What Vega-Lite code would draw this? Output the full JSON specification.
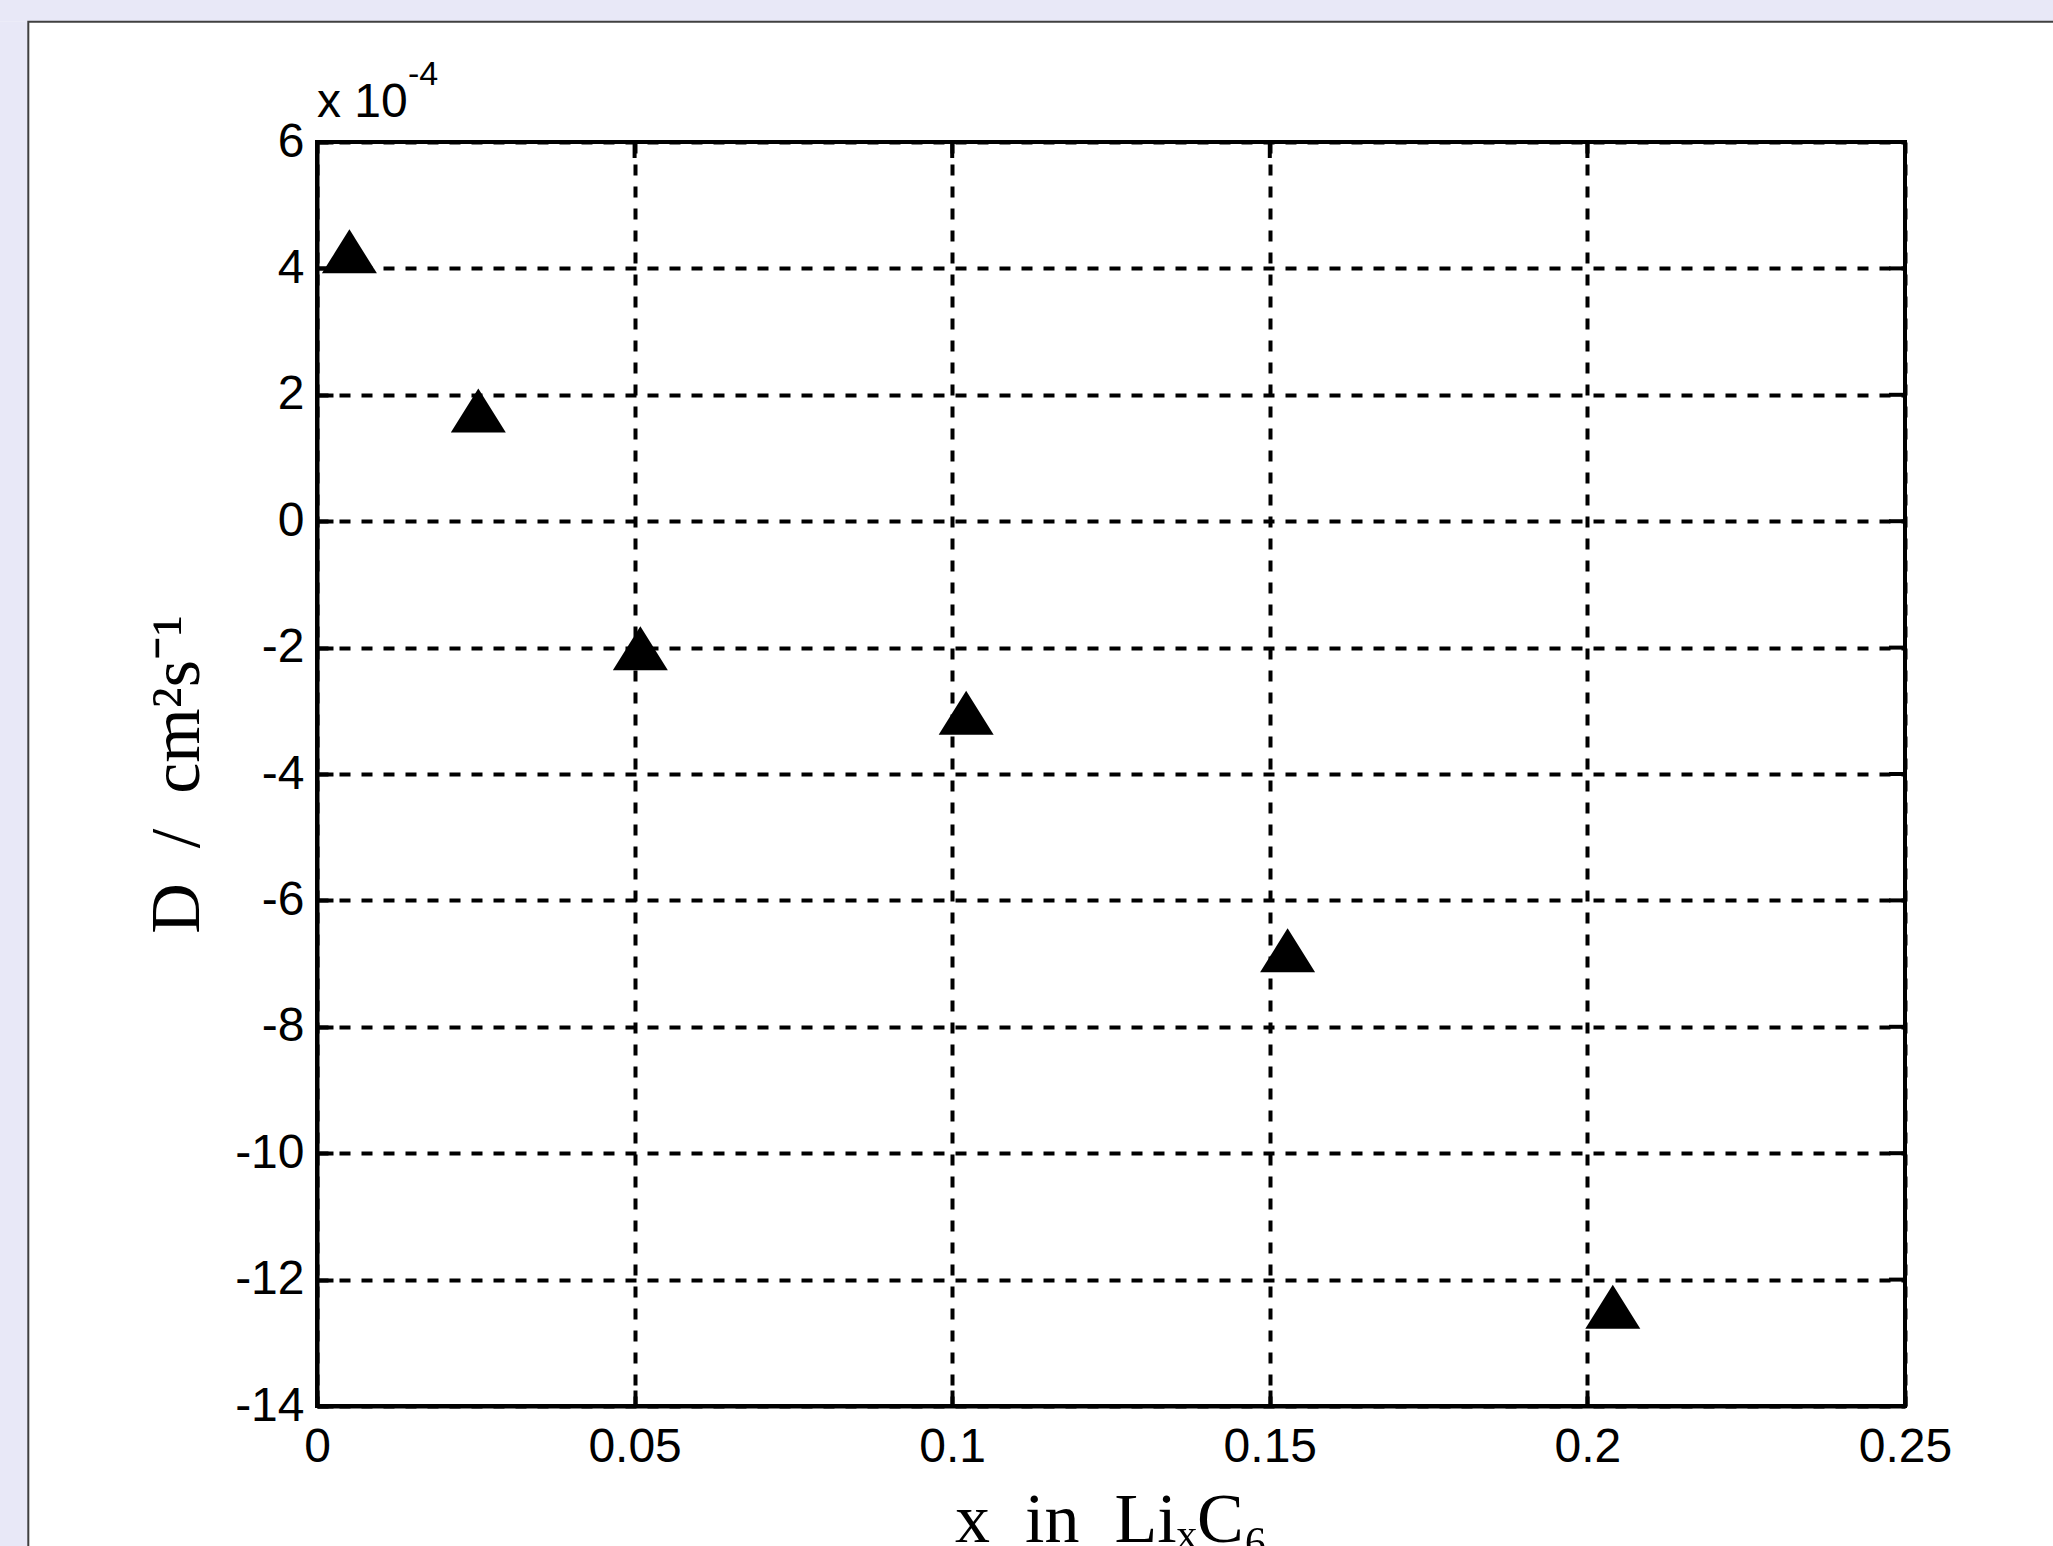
{
  "$schema": "https://vega.github.io/schema/vega-lite/v6.json",
  "width": 1588,
  "height": 1264,
  "autosize": {"type": "none"},
  "padding": {"left": 317, "top": 142, "right": 148, "bottom": 140},
  "background": "white",
  "config": {
    "view": {"stroke": null},
    "axis": {
      "grid": true, "gridColor": "black", "gridDash": [11, 11], "gridWidth": 4, "gridOpacity": 1,
      "domain": true, "domainColor": "black", "domainWidth": 4,
      "ticks": true, "tickColor": "black", "tickWidth": 4, "tickSize": -16,
      "labelFont": "Liberation Sans", "labelFontSize": 48, "labelColor": "black", "labelOverlap": false,
      "titleFont": "Liberation Serif", "titleFontSize": 70, "titleFontWeight": "normal", "titleColor": "black",
      "zindex": 1
    },
    "axisX": {"labelPadding": 33, "titlePadding": 15, "labelFlush": false},
    "axisY": {"labelPadding": 29, "titlePadding": 21}
  },
  "datasets": {
    "points": [
      {"x": 0.0051, "D": 4.27},
      {"x": 0.0254, "D": 1.75},
      {"x": 0.0509, "D": -2.01},
      {"x": 0.1022, "D": -3.03},
      {"x": 0.1528, "D": -6.79},
      {"x": 0.204, "D": -12.43}
    ],
    "xticks": [{"x": 0.05}, {"x": 0.1}, {"x": 0.15}, {"x": 0.2}],
    "yticks": [{"D": -12}, {"D": -10}, {"D": -8}, {"D": -6}, {"D": -4}, {"D": -2}, {"D": 0}, {"D": 2}, {"D": 4}]
  },
  "layer": [
    {
      "data": {"name": "points"},
      "mark": {"type": "point", "shape": "M0,-0.8L1,0.8L-1,0.8Z", "size": 3025, "filled": true, "color": "black", "opacity": 1, "strokeWidth": 0},
      "encoding": {
        "x": {
          "field": "x", "type": "quantitative",
          "scale": {"domain": [0, 0.25], "nice": false, "zero": false},
          "axis": {
            "values": [0, 0.05, 0.1, 0.15, 0.2, 0.25],
            "labelExpr": "'' + datum.value",
            "title": "x\u2002in\u2002Li\u2093C\u2086",
            "zindex": 1
          }
        },
        "y": {
          "field": "D", "type": "quantitative",
          "scale": {"domain": [-14, 6], "nice": false, "zero": false},
          "axis": {
            "values": [-14, -12, -10, -8, -6, -4, -2, 0, 2, 4, 6],
            "labelExpr": "'' + datum.value",
            "title": "D\u2002/\u2002cm\u00b2s\u207b\u00b9",
            "zindex": 1
          }
        }
      }
    },
    {
      "data": {"name": "xticks"},
      "mark": {"type": "rule", "color": "black", "strokeWidth": 4},
      "encoding": {
        "x": {"field": "x", "type": "quantitative", "scale": {"domain": [0, 0.25], "nice": false, "zero": false}},
        "y": {"datum": 6, "type": "quantitative", "scale": {"domain": [-14, 6], "nice": false, "zero": false}},
        "y2": {"datum": 5.747}
      }
    },
    {
      "data": {"name": "yticks"},
      "mark": {"type": "rule", "color": "black", "strokeWidth": 4},
      "encoding": {
        "x": {"datum": 0.25, "type": "quantitative", "scale": {"domain": [0, 0.25], "nice": false, "zero": false}},
        "x2": {"datum": 0.24748},
        "y": {"field": "D", "type": "quantitative", "scale": {"domain": [-14, 6], "nice": false, "zero": false}}
      }
    },
    {
      "data": {"values": [{}]},
      "mark": {"type": "rect", "fill": "#E8E8F7", "strokeWidth": 0},
      "encoding": {
        "x": {"datum": -0.1, "type": "quantitative", "scale": {"domain": [0, 0.25], "nice": false, "zero": false}},
        "x2": {"datum": 0.3},
        "y": {"datum": 8.6, "type": "quantitative", "scale": {"domain": [-14, 6], "nice": false, "zero": false}},
        "y2": {"datum": 7.9035}
      }
    },
    {
      "data": {"values": [{}]},
      "mark": {"type": "rect", "fill": "#E8E8F7", "strokeWidth": 0},
      "encoding": {
        "x": {"datum": -0.1, "type": "quantitative", "scale": {"domain": [0, 0.25], "nice": false, "zero": false}},
        "x2": {"datum": -0.04545},
        "y": {"datum": 7.9035, "type": "quantitative", "scale": {"domain": [-14, 6], "nice": false, "zero": false}},
        "y2": {"datum": -17}
      }
    },
    {
      "data": {"values": [{}]},
      "mark": {"type": "rect", "fill": "transparent", "stroke": "#404040", "strokeWidth": 2},
      "encoding": {
        "x": {"datum": -0.04545, "type": "quantitative", "scale": {"domain": [0, 0.25], "nice": false, "zero": false}},
        "x2": {"datum": 0.3},
        "y": {"datum": 7.9035, "type": "quantitative", "scale": {"domain": [-14, 6], "nice": false, "zero": false}},
        "y2": {"datum": -17}
      }
    },
    {
      "data": {"values": [{}]},
      "mark": {"type": "rect", "fill": "transparent", "stroke": "black", "strokeWidth": 4},
      "encoding": {
        "x": {"datum": 0, "type": "quantitative", "scale": {"domain": [0, 0.25], "nice": false, "zero": false}},
        "x2": {"datum": 0.25},
        "y": {"datum": 6, "type": "quantitative", "scale": {"domain": [-14, 6], "nice": false, "zero": false}},
        "y2": {"datum": -14}
      }
    },
    {
      "data": {"values": [{}]},
      "mark": {"type": "text", "text": "x 10", "align": "left", "baseline": "alphabetic", "dx": 0, "dy": -25, "font": "Liberation Sans", "fontSize": 48, "color": "black"},
      "encoding": {
        "x": {"datum": 0, "type": "quantitative", "scale": {"domain": [0, 0.25], "nice": false, "zero": false}},
        "y": {"datum": 6, "type": "quantitative", "scale": {"domain": [-14, 6], "nice": false, "zero": false}}
      }
    },
    {
      "data": {"values": [{}]},
      "mark": {"type": "text", "text": "-4", "align": "left", "baseline": "alphabetic", "dx": 91, "dy": -57, "font": "Liberation Sans", "fontSize": 34, "color": "black"},
      "encoding": {
        "x": {"datum": 0, "type": "quantitative", "scale": {"domain": [0, 0.25], "nice": false, "zero": false}},
        "y": {"datum": 6, "type": "quantitative", "scale": {"domain": [-14, 6], "nice": false, "zero": false}}
      }
    }
  ]
}
